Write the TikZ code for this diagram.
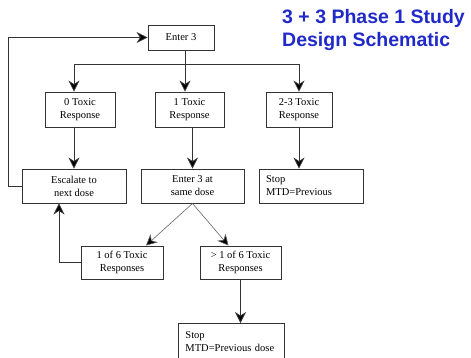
\documentclass[tikz,border=0pt]{standalone}
\usepackage{fontspec}
\setmainfont{Liberation Serif}
\newfontfamily\titlefont{Liberation Sans}
\usetikzlibrary{arrows.meta}
\definecolor{titleblue}{RGB}{32,42,200}

\tikzset{
  box/.style={draw=black!80, line width=0.9pt, font=\fontsize{10.5}{13}\selectfont, align=center, inner sep=0pt},
  flow/.style={draw=black!80, line width=0.8pt, -{Stealth[length=11pt, width=11pt, inset=3.5pt, fill=black]}},
  thinflow/.style={flow, draw=black!60, line width=0.6pt},
  titletext/.style={text=titleblue, font=\titlefont\bfseries\fontsize{19.5}{23}\selectfont, anchor=base west, inner sep=0pt}
}

\begin{document}
\begin{tikzpicture}[x=1pt, y=-1pt]
  \useasboundingbox (0,0) rectangle (471,357);
  \clip (0,0) rectangle (471,357);
  \node[titletext] (titlea) at (282,23) {3 + 3 Phase 1 Study};
  \node[titletext] (titleb) at (282,46) {Design Schematic};

  \node[box, minimum width=66, minimum height=25] (enter) at (181,37.5) {Enter 3};
  \node[box, minimum width=70, minimum height=35] (zero) at (80,109.5) {0 Toxic\\Response};
  \node[box, minimum width=69, minimum height=35] (one) at (189.5,109.5) {1 Toxic\\Response};
  \node[box, minimum width=66, minimum height=35] (twothree) at (299,109.5) {2-3 Toxic\\Response};
  \node[box, minimum width=104, minimum height=34] (escalate) at (74,186) {Escalate to\\next dose};
  \node[box, minimum width=103, minimum height=34] (again) at (192.5,186) {Enter 3 at\\same dose};
  \node[box, minimum width=104, minimum height=34, align=left, text width=90, inner xsep=7] (stopa) at (311,186) {Stop\\MTD=Previous};
  \node[box, minimum width=82, minimum height=33] (lowtox) at (122,262.5) {1 of 6 Toxic\\Responses};
  \node[box, minimum width=81, minimum height=33] (hightox) at (240.5,262.5) {> 1 of 6 Toxic\\Responses};
  \node[box, anchor=north west, align=left, text width=92, inner xsep=7, inner ysep=8] (stopb) at (178,323) {Stop\\MTD=Previous dose};

  \coordinate (fork) at (185,64);
  \draw[draw=black!80, line width=0.8pt] (enter.south -| fork) -- (fork);
  \draw[flow] (fork) -| (zero.north -| escalate.north);
  \draw[flow] (fork) -- (one.north -| fork);
  \draw[flow] (fork) -| (twothree.north);
  \draw[flow] (zero.south -| escalate.north) -- (escalate);
  \draw[flow] (one.south -| again.north) -- (again);
  \draw[flow] (twothree.south) -- (twothree.south |- stopa.north);
  \draw[flow] (escalate.west) -- ++(-13,0) |- (enter.west);
  \draw[thinflow] (again.south) -- ([xshift=24pt]lowtox.north);
  \draw[thinflow] (again.south) -- ([xshift=-12pt]hightox.north);
  \draw[flow] (lowtox.west) -| ([xshift=-15pt]escalate.south);
  \draw[flow] (hightox.south) -- (hightox.south |- stopb.north);
\end{tikzpicture}
\end{document}
